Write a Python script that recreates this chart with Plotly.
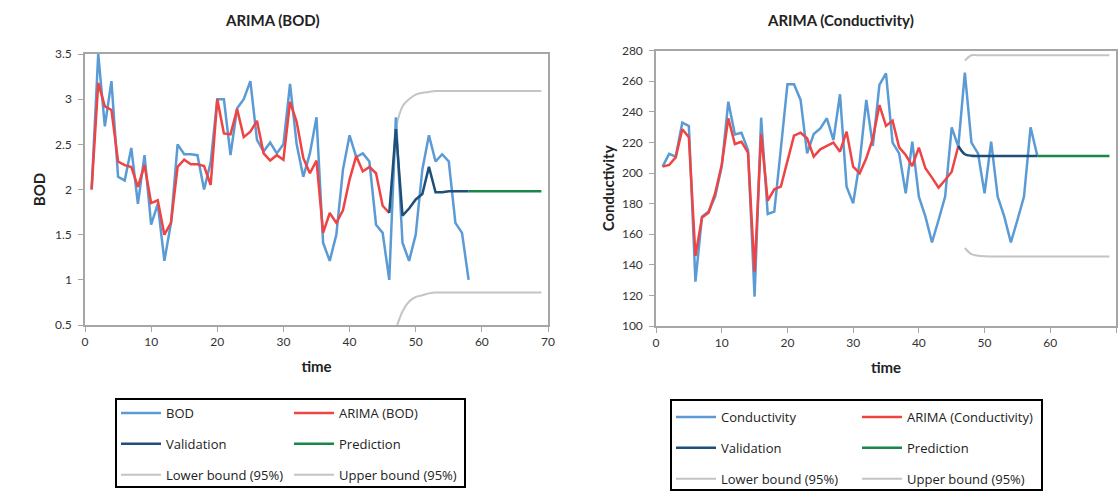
import plotly.graph_objects as go

# ---------------- data ----------------
t_obs = list(range(1, 59))
t_fit = list(range(1, 47))
t_val = list(range(46, 59))
t_pred = list(range(58, 70))
t_bnd = list(range(47, 70))

bod = [2.0, 3.5, 2.70, 3.2, 2.14, 2.10, 2.46, 1.84, 2.38, 1.61,
       1.84, 1.21, 1.63, 2.50, 2.39, 2.39, 2.38, 2.0, 2.3, 3.0,
       3.0, 2.38, 2.9, 3.0, 3.2, 2.55, 2.42, 2.52, 2.4, 2.5,
       3.17, 2.5, 2.14, 2.4, 2.8, 1.41, 1.21, 1.5, 2.22, 2.6,
       2.36, 2.4, 2.31, 1.61, 1.52, 1.0, 2.8, 1.41, 1.21, 1.5,
       2.22, 2.6, 2.31, 2.39, 2.31, 1.63, 1.52, 1.0]
arima_bod = [2.0, 3.18, 2.92, 2.88, 2.31, 2.27, 2.25, 2.03, 2.27, 1.85,
             1.88, 1.5, 1.63, 2.25, 2.33, 2.28, 2.28, 2.26, 2.05, 3.0,
             2.62, 2.61, 2.89, 2.58, 2.64, 2.76, 2.40, 2.32, 2.38, 2.33,
             2.97, 2.75, 2.35, 2.18, 2.32, 1.52, 1.74, 1.63, 1.77, 2.11,
             2.37, 2.2, 2.25, 2.18, 1.82, 1.74]
val_bod = [1.74, 2.67, 1.71, 1.79, 1.89, 1.95, 2.25, 1.97, 1.97, 1.98, 1.98, 1.98, 1.98]
pred_bod = [1.98, 1.98, 1.98, 1.98, 1.98, 1.98, 1.98, 1.98, 1.98, 1.98, 1.98, 1.98]
upper_bod = [2.68, 2.92, 3.0, 3.05, 3.07, 3.08, 3.09, 3.09, 3.09, 3.09, 3.09, 3.09,
             3.09, 3.09, 3.09, 3.09, 3.09, 3.09, 3.09, 3.09, 3.09, 3.09, 3.09]
lower_bod = [0.45, 0.65, 0.76, 0.81, 0.83, 0.85, 0.86, 0.86, 0.86, 0.86, 0.86, 0.86,
             0.86, 0.86, 0.86, 0.86, 0.86, 0.86, 0.86, 0.86, 0.86, 0.86, 0.86]

cond = [204.2, 212.5, 210.7, 233, 230.8, 129, 171.5, 174.8, 184.6, 204.2,
        246.7, 225.3, 226.4, 215.1, 119.2, 236.2, 173.2, 174.8, 216, 258,
        258, 247.8, 212.9, 225.5, 229.2, 235.8, 221.6, 251.5, 191.1, 180.2,
        207.4, 247.8, 217.7, 257.6, 265.2, 219.9, 212.9, 186.8, 220.5, 184.6,
        171.5, 154.7, 169.3, 184.6, 229.9, 217.3, 265.6, 219.9, 212.9, 186.8,
        220.5, 184.6, 171.5, 154.7, 169.3, 184.6, 229.9, 211.8]
arima_cond = [204.2, 205.3, 210.3, 228.6, 223.4, 145.8, 171, 174.1, 186.8, 205.3,
              235.8, 219, 220.5, 213.3, 135.5, 225.5, 182, 189.4, 191.1, 207,
              224.4, 226.4, 222.7, 210.7, 215.5, 217.7, 219.9, 214, 227.1, 204.2,
              199.8, 209.6, 222.7, 244.5, 230.8, 234.3, 216.8, 211.8, 204.6, 216.6,
              203.1, 197, 190.5, 195.5, 200.9, 217.7]
val_cond = [217.7, 212.3, 211.3, 211.2, 211.2, 211.2, 211.2, 211.2, 211.2, 211.2, 211.2, 211.2, 211.2]
pred_cond = [211.2, 211.2, 211.2, 211.2, 211.2, 211.2, 211.2, 211.2, 211.2, 211.2, 211.2, 211.2]
upper_cond = [273.5, 277, 277, 277, 277, 277, 277, 277, 277, 277, 277, 277,
              277, 277, 277, 277, 277, 277, 277, 277, 277, 277, 277]
lower_cond = [151, 147, 146, 145.6, 145.5, 145.5, 145.5, 145.5, 145.5, 145.5, 145.5, 145.5,
              145.5, 145.5, 145.5, 145.5, 145.5, 145.5, 145.5, 145.5, 145.5, 145.5, 145.5]

x_ticks = [0, 10, 20, 30, 40, 50, 60, 70]

# ---------------- style ----------------
C_OBS = "#5B9BD5"
C_FIT = "#EE4444"
C_VAL = "#1F4E79"
C_PRED = "#18884A"
C_BND = "#C4C4C4"
AX = "#A6A6A6"
W, H = 1118, 492
FONT = "Lato"
LFONT = "Open Sans"

fig = go.Figure()


def add(x, y, name, color, xa, ya, legend, rank, width=2.5, shape="linear"):
    fig.add_trace(go.Scatter(
        x=x, y=y, name=name, mode="lines",
        line=dict(color=color, width=width, shape=shape, smoothing=1.0),
        xaxis=xa, yaxis=ya, legend=legend, legendrank=rank,
        legendgroup=legend + name, cliponaxis=True))


# left chart
add(t_bnd, lower_bod, "Lower bound (95%)", C_BND, "x", "y", "legend", 3, 2, "spline")
add(t_bnd, upper_bod, "Upper bound (95%)", C_BND, "x", "y", "legend2", 3, 2, "spline")
add(t_obs, bod, "BOD", C_OBS, "x", "y", "legend", 1)
add(t_fit, arima_bod, "ARIMA (BOD)", C_FIT, "x", "y", "legend2", 1)
add(t_val, val_bod, "Validation", C_VAL, "x", "y", "legend", 2)
add(t_pred, pred_bod, "Prediction", C_PRED, "x", "y", "legend2", 2)

# right chart
add(t_bnd, lower_cond, "Lower bound (95%)", C_BND, "x2", "y2", "legend3", 3, 2, "spline")
add(t_bnd, upper_cond, "Upper bound (95%)", C_BND, "x2", "y2", "legend4", 3, 2, "spline")
add(t_obs, cond, "Conductivity", C_OBS, "x2", "y2", "legend3", 1)
add(t_fit, arima_cond, "ARIMA (Conductivity)", C_FIT, "x2", "y2", "legend4", 1)
add(t_val, val_cond, "Validation", C_VAL, "x2", "y2", "legend3", 2, 2.5, "spline")
add(t_pred, pred_cond, "Prediction", C_PRED, "x2", "y2", "legend4", 2)


def xax(domain, anchor, title):
    return dict(domain=domain, anchor=anchor, range=[0, 70], tickvals=x_ticks,
                showgrid=False, zeroline=False, showline=True, linecolor=AX, linewidth=1.5,
                mirror=True, ticks="outside", ticklen=5, tickcolor=AX,
                tickfont=dict(family=FONT, size=12, color="#333"),
                title=dict(text="<b>" + title + "</b>", standoff=13,
                           font=dict(family=FONT, size=15, color="#222")))


def yax(domain, anchor, rng, dtick, title, standoff):
    return dict(domain=domain, anchor=anchor, range=rng, dtick=dtick,
                showgrid=False, zeroline=False, showline=True, linecolor=AX, linewidth=1.5,
                mirror=True, ticks="outside", ticklen=5, tickcolor=AX, ticklabelstandoff=4,
                tickfont=dict(family=FONT, size=12, color="#333"),
                title=dict(text="<b>" + title + "</b>", standoff=standoff,
                           font=dict(family=FONT, size=15, color="#222")))


def leg(x, y):
    return dict(x=x / W, y=1 - y / H, xanchor="left", yanchor="top", orientation="v",
                bgcolor="rgba(0,0,0,0)", borderwidth=0, tracegroupgap=11, itemwidth=40,
                font=dict(family=LFONT, size=13, color="#222"), traceorder="grouped")


fig.update_layout(
    width=W, height=H, margin=dict(l=0, r=0, t=0, b=0, autoexpand=False),
    paper_bgcolor="white", plot_bgcolor="white",
    xaxis=xax([85 / W, 548 / W], "y", "time"),
    yaxis=yax([1 - 325 / H, 1 - 54 / H], "x", [0.5, 3.5], 0.5, "BOD", 6),
    xaxis2=xax([656 / W, 1116 / W], "y2", "time"),
    yaxis2=yax([1 - 326 / H, 1 - 50.7 / H], "x2", [100, 280], 20, "Conductivity", 4),
    legend=leg(116, 398),
    legend2=leg(289, 398),
    legend3=leg(671, 402),
    legend4=leg(857, 402),
    annotations=[
        dict(text="<b>ARIMA (BOD)</b>", x=272 / W, y=1 - 20 / H, xref="paper", yref="paper",
             xanchor="center", yanchor="middle",
             showarrow=False, font=dict(family=FONT, size=15, color="#222")),
        dict(text="<b>ARIMA (Conductivity)</b>", x=840 / W, y=1 - 20 / H, xref="paper", yref="paper",
             xanchor="center", yanchor="middle",
             showarrow=False, font=dict(family=FONT, size=15, color="#222")),
    ],
    shapes=[
        dict(type="rect", xref="paper", yref="paper", x0=116 / W, x1=465 / W,
             y0=1 - 487 / H, y1=1 - 399 / H, line=dict(color="black", width=2)),
        dict(type="rect", xref="paper", yref="paper", x0=671 / W, x1=1042 / W,
             y0=1 - 490 / H, y1=1 - 400 / H, line=dict(color="black", width=2)),
    ],
)

fig.write_html("out.html")
